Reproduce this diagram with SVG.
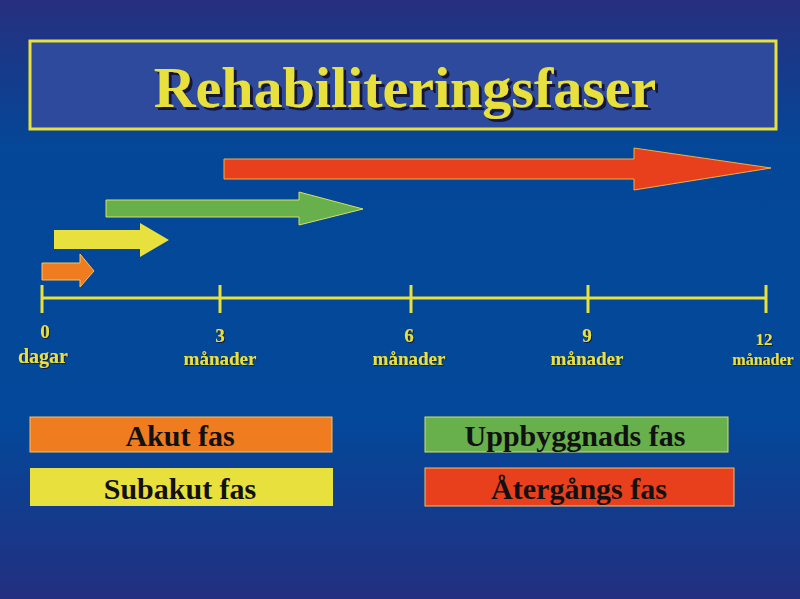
<svg xmlns="http://www.w3.org/2000/svg" width="800" height="599" viewBox="0 0 800 599">
<defs>
<linearGradient id="bg" x1="0" y1="0" x2="0" y2="1">
<stop offset="0" stop-color="#272f7f"/>
<stop offset="0.25" stop-color="#044798"/>
<stop offset="0.7" stop-color="#03489a"/>
<stop offset="1" stop-color="#232f80"/>
</linearGradient>
<filter id="shT" x="-5%" y="-20%" width="110%" height="140%">
<feDropShadow dx="3" dy="3" stdDeviation="0.3" flood-color="#14183a" flood-opacity="1"/>
</filter>
<filter id="shA" x="-10%" y="-20%" width="120%" height="140%">
<feDropShadow dx="1" dy="1" stdDeviation="0.2" flood-color="#14183a" flood-opacity="1"/>
</filter>
<style>
.ttl{font-family:"Liberation Serif","Times New Roman",serif;font-weight:bold;font-size:58px;text-anchor:middle;fill:#e8e03c;filter:url(#shT)}
.ax{font-family:"Liberation Serif","Times New Roman",serif;font-weight:bold;font-size:19px;text-anchor:middle;fill:#e8e03c;filter:url(#shA)}
.lg{font-family:"Liberation Serif","Times New Roman",serif;font-weight:bold;font-size:30px;text-anchor:middle;fill:#111}
.axl{stroke:#e8e03c;stroke-width:3;fill:none}
</style>
</defs>
<rect x="0" y="0" width="800" height="599" fill="url(#bg)"/>
<g id="title">
<rect x="30" y="41" width="746" height="88" fill="#2e4a9c" stroke="#e8e03c" stroke-width="3"/>
<text class="ttl" x="405" y="107">Rehabiliteringsfaser</text>
</g>
<g id="arrows">
<g id="arrow-atergang"><polygon points="224,159 634,159 634,148 771,168 634,190 634,179 224,179" fill="#e8401c" stroke="#f0b040" stroke-width="1"/></g>
<g id="arrow-uppbyggnad"><polygon points="106,200 299,200 299,192 363,209 299,225 299,217 106,217" fill="#68b04c" stroke="#d8e060" stroke-width="1"/></g>
<g id="arrow-subakut"><polygon points="54,230 140,230 140,223 169,240 140,257 140,249 54,249" fill="#e8e03c"/></g>
<g id="arrow-akut"><polygon points="42,263 80,263 80,254 94,271 80,287 80,280 42,280" fill="#f07c20" stroke="#f8c060" stroke-width="1"/></g>
</g>
<g id="axis">
<line class="axl" x1="42" y1="298" x2="766" y2="298"/>
<line class="axl" x1="42" y1="285" x2="42" y2="313"/>
<line class="axl" x1="220" y1="285" x2="220" y2="313"/>
<line class="axl" x1="411" y1="285" x2="411" y2="313"/>
<line class="axl" x1="588" y1="285" x2="588" y2="313"/>
<line class="axl" x1="766" y1="285" x2="766" y2="313"/>
</g>
<g id="axis-labels">
<text class="ax" x="45" y="338">0</text>
<text class="ax" x="43" y="363" style="font-size:20px">dagar</text>
<text class="ax" x="220" y="342">3</text>
<text class="ax" x="220" y="365">månader</text>
<text class="ax" x="409" y="342">6</text>
<text class="ax" x="409" y="365">månader</text>
<text class="ax" x="587" y="342">9</text>
<text class="ax" x="587" y="365">månader</text>
<text class="ax" x="764" y="345" style="font-size:17px">12</text>
<text class="ax" x="763" y="365" style="font-size:16px">månader</text>
</g>
<g id="legend-akut">
<rect x="30" y="417" width="302" height="35" fill="#f07c20" stroke="#f8c060" stroke-width="1"/>
<text class="lg" x="180" y="446">Akut fas</text>
</g>
<g id="legend-subakut">
<rect x="30" y="468" width="303" height="38" fill="#e8e03c"/>
<text class="lg" x="180" y="499">Subakut fas</text>
</g>
<g id="legend-uppbyggnad">
<rect x="425" y="417" width="303" height="35" fill="#68b04c" stroke="#d8e060" stroke-width="1"/>
<text class="lg" x="575" y="446">Uppbyggnads fas</text>
</g>
<g id="legend-atergang">
<rect x="425" y="468" width="309" height="38" fill="#e8401c" stroke="#f0c060" stroke-width="1"/>
<text class="lg" x="579" y="499">Återgångs fas</text>
</g>
</svg>
